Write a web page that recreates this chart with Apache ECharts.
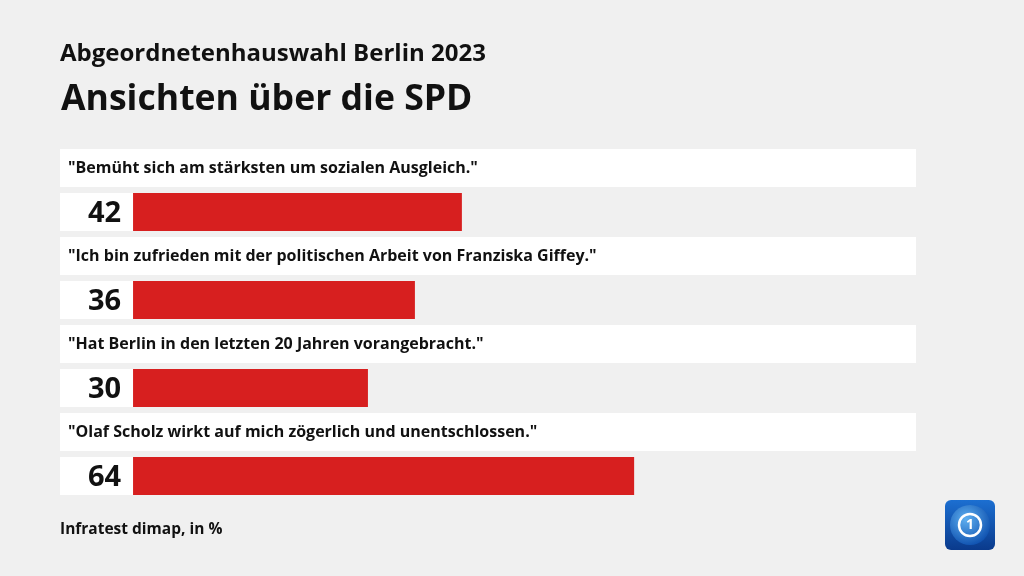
<!DOCTYPE html>
<html><head><meta charset="utf-8">
<script src="https://cdn.jsdelivr.net/npm/echarts@6/dist/echarts.min.js"></script>
<style>html,body{margin:0;padding:0;background:#f0f0f0;}#c{width:1024px;height:576px;}</style>
</head><body><div id="c"></div>
<script>
const questions = [
  '"Bemüht sich am stärksten um sozialen Ausgleich."',
  '"Ich bin zufrieden mit der politischen Arbeit von Franziska Giffey."',
  '"Hat Berlin in den letzten 20 Jahren vorangebracht."',
  '"Olaf Scholz wirkt auf mich zögerlich und unentschlossen."'
];
const values = [42, 36, 30, 64];
const axisMax = 100;
const labelPad = -9.33;

const cats = [];
const qPos = [], qNeg = [], vBox = [], vBar = [];
questions.forEach((q, i) => {
  cats.push('q' + i); cats.push('v' + i);
  qPos.push(axisMax); qPos.push('-');
  qNeg.push({value: labelPad, label: {formatter: q}}); qNeg.push('-');
  vBox.push('-'); vBox.push({value: labelPad, label: {formatter: String(values[i])}});
  vBar.push('-'); vBar.push(values[i]);
});

const font = '"Open Sans", Lato, sans-serif';
const chart = echarts.init(document.getElementById('c'));
chart.setOption({
  backgroundColor: '#f0f0f0',
  animation: false,
  title: [
    {text: 'Abgeordnetenhauswahl Berlin 2023', left: 55, top: 37,
     textStyle: {fontFamily: font, fontSize: 24, fontWeight: 'bold', color: '#111'}},
    {text: 'Ansichten über die SPD', left: 56, top: 77,
     textStyle: {fontFamily: font, fontSize: 35.6, fontWeight: 'bold', color: '#111'}},
    {text: 'Infratest dimap, in %', left: 55, top: 517,
     textStyle: {fontFamily: font, fontSize: 15.5, fontWeight: 'bold', color: '#111'}}
  ],
  grid: {left: 60, right: 108, top: 146, bottom: 78, containLabel: false},
  xAxis: {type: 'value', min: labelPad, max: axisMax, show: false},
  yAxis: {type: 'category', data: cats, inverse: true, show: false},
  series: [
    {type: 'bar', data: qPos, barWidth: 38, barGap: '-100%', stack: 'q',
     itemStyle: {color: '#ffffff'}, silent: true},
    {type: 'bar', data: qNeg, barWidth: 38, barGap: '-100%', stack: 'q',
     itemStyle: {color: '#ffffff'}, silent: true,
     label: {show: true, position: 'insideLeft', distance: 8,
             fontFamily: font, fontSize: 16, fontWeight: 'bold', color: '#111'}},
    {type: 'bar', data: vBox, barWidth: 38, barGap: '-100%', stack: 'v',
     itemStyle: {color: '#ffffff'}, silent: true,
     label: {show: true, position: 'insideRight', distance: 12, offset: [0, 2],
             fontFamily: font, fontSize: 29, fontWeight: 'bold', color: '#111'}},
    {type: 'bar', data: vBar, barWidth: 38, barGap: '-100%', stack: 'v',
     itemStyle: {color: '#d71f1f'}, silent: true}
  ],
  graphic: [
    {type: 'group', left: 945, top: 500, children: [
      {type: 'rect', shape: {x: 0, y: 0, width: 50, height: 50, r: 6},
       style: {fill: new echarts.graphic.LinearGradient(0, 0, 0, 1, [
         {offset: 0, color: '#1c6fd1'}, {offset: 1, color: '#0a3a8c'}])}},
      {type: 'circle', shape: {cx: 25, cy: 25, r: 20},
       style: {fill: new echarts.graphic.RadialGradient(0.4, 0.35, 0.7, [
         {offset: 0, color: '#5fb0f0'}, {offset: 1, color: '#0d4fae'}])}},
      {type: 'circle', shape: {cx: 25, cy: 25, r: 11},
       style: {fill: 'none', stroke: '#ffffff', lineWidth: 2.5}},
      {type: 'text', style: {text: '1', x: 25, y: 25, align: 'center', verticalAlign: 'middle',
       fontFamily: font, fontSize: 14, fontWeight: 'bold', fill: '#ffffff'}}
    ]}
  ]
});
</script></body></html>
